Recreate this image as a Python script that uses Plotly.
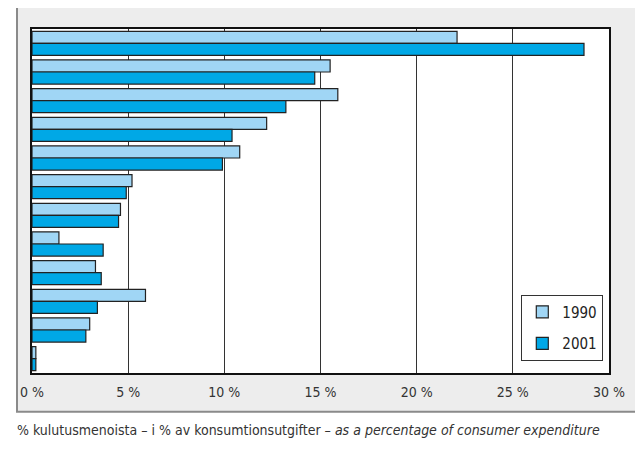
import plotly.graph_objects as go

# Kategoriat (otsikot rajautuvat kuvan ulkopuolelle)
categories = [f"k{i}" for i in range(1, 13)]
values_1990 = [22.1, 15.5, 15.9, 12.2, 10.8, 5.2, 4.6, 1.4, 3.3, 5.9, 3.0, 0.2]
values_2001 = [28.7, 14.7, 13.2, 10.4, 9.9, 4.9, 4.5, 3.7, 3.6, 3.4, 2.8, 0.2]
tick_vals = [0, 5, 10, 15, 20, 25, 30]
tick_text = [f"{v} %" for v in tick_vals]

FONT = "DejaVu Sans Condensed, Liberation Sans Narrow, sans-serif"
LIGHT = "#A0D6F5"
DARK = "#00A8E6"

fig = go.Figure()
fig.add_trace(go.Bar(
    y=categories, x=values_1990, name="1990", orientation="h", legendgroup="a",
    marker=dict(color=LIGHT, line=dict(color="#222", width=1.2)),
))
fig.add_trace(go.Bar(
    y=categories, x=values_2001, name="2001", orientation="h", legendgroup="b",
    marker=dict(color=DARK, line=dict(color="#222", width=1.2)),
))

# harmaa kehys ja valkoinen kuva-ala
fig.add_shape(type="rect", xref="paper", yref="paper",
              x0=-0.026, x1=1.08, y0=-0.113, y1=1.078,
              fillcolor="#EDEDED", line=dict(color="#8A8A8A", width=2), layer="below")
fig.add_shape(type="rect", xref="paper", yref="paper",
              x0=0, x1=1, y0=0, y1=1,
              fillcolor="white", line_width=0, layer="below")

# sivun 8 px marginaali huomioitu
fig.update_layout(
    width=635, height=433,
    margin=dict(l=20, r=34, t=21, b=68),
    paper_bgcolor="white",
    plot_bgcolor="white",
    barmode="group",
    bargap=0.16,
    bargroupgap=0,
    font=dict(family=FONT, size=14, color="#333"),
    legend=dict(
        x=0.848, y=0.228, xanchor="left", yanchor="top",
        bgcolor="white", bordercolor="#333", borderwidth=1,
        font=dict(family=FONT, size=15, color="#222"),
        traceorder="grouped", tracegroupgap=9,
    ),
    showlegend=True,
)

fig.update_xaxes(
    range=[0, 30], tickvals=tick_vals, ticktext=tick_text,
    showgrid=True, gridcolor="#333", gridwidth=1,
    showline=True, linecolor="#111", linewidth=1.5, mirror=True,
    ticks="", zeroline=False, fixedrange=True, ticklabelstandoff=5,
    tickfont=dict(family=FONT, size=14, color="#333"),
)
fig.update_yaxes(
    autorange="reversed", showticklabels=False, ticks="",
    showgrid=False, zeroline=False,
    showline=True, linecolor="#111", linewidth=1.5, mirror=True,
)

fig.add_annotation(
    text="% kulutusmenoista – i % av konsumtionsutgifter – <i>as a percentage of consumer expenditure</i>",
    xref="paper", yref="paper", x=-0.03, y=-0.166,
    xanchor="left", yanchor="middle", showarrow=False,
    font=dict(family=FONT, size=14, color="#333"),
)

fig.write_html("out.html")
